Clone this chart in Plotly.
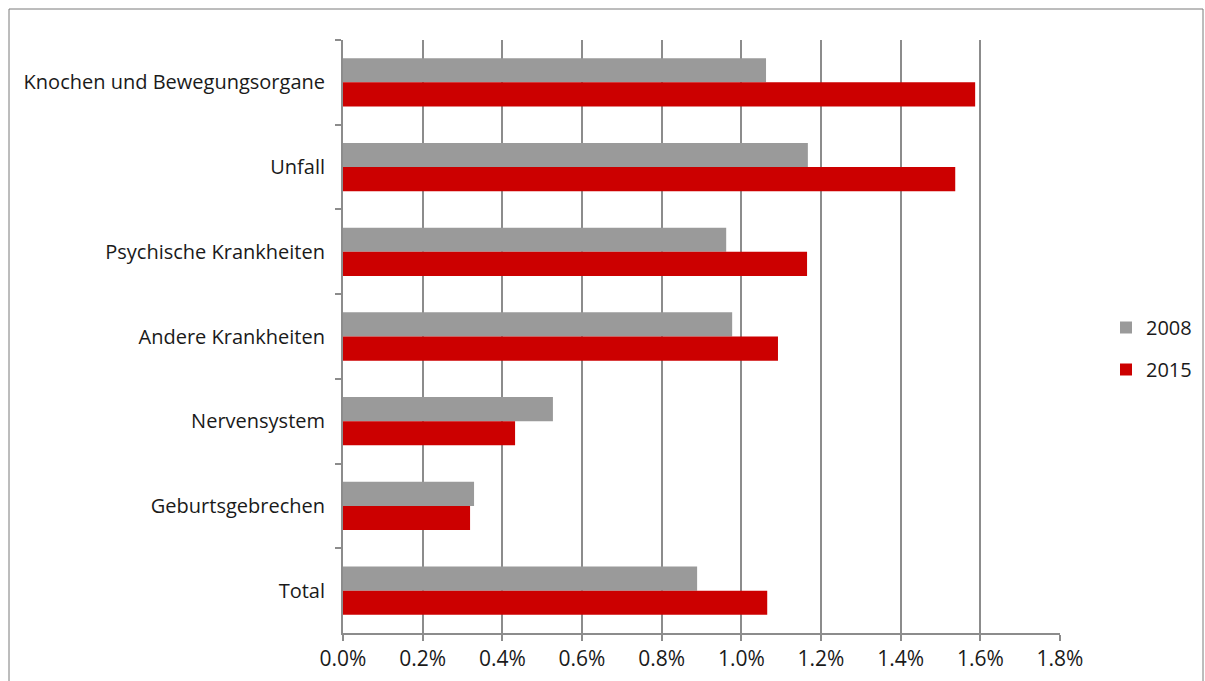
import plotly.graph_objects as go

categories = ["Knochen und Bewegungsorgane", "Unfall", "Psychische Krankheiten",
              "Andere Krankheiten", "Nervensystem", "Geburtsgebrechen", "Total"]
values_2008 = [1.062, 1.167, 0.962, 0.977, 0.527, 0.329, 0.889]
values_2015 = [1.587, 1.537, 1.165, 1.092, 0.432, 0.319, 1.065]
tick_vals = [0.0, 0.2, 0.4, 0.6, 0.8, 1.0, 1.2, 1.4, 1.6, 1.8]
tick_text = [f"{v:.1f}%" for v in tick_vals]

W, H = 1205, 681
L, R, T, B = 343, 1060, 40, 633

fig = go.Figure()
fig.add_trace(go.Bar(y=categories, x=values_2008, name="2008", orientation="h",
                     legendgroup="a",
                     marker=dict(color="#9a9a9a", line=dict(width=0))))
fig.add_trace(go.Bar(y=categories, x=values_2015, name="2015", orientation="h",
                     legendgroup="b",
                     marker=dict(color="#cc0000", line=dict(width=0))))

pw, ph = R - L, B - T
def px2x(p): return (p - L) / pw
def px2y(p): return (B - p) / ph

fig.update_layout(
    width=W, height=H,
    margin=dict(l=L, r=W - R, t=T, b=H - B, pad=0, autoexpand=False),
    paper_bgcolor="white", plot_bgcolor="white",
    font=dict(family="Open Sans, Noto Sans, sans-serif", size=20, color="#1a1a1a"),
    barmode="group", bargap=0.43, bargroupgap=0,
    xaxis=dict(range=[0, 1.8], tickvals=tick_vals, ticktext=tick_text,
               tickfont=dict(size=21),
               showgrid=True, gridcolor="#8c8c8c", gridwidth=2,
               showline=True, linecolor="#8c8c8c", linewidth=2,
               ticks="outside", ticklen=6, tickcolor="#8c8c8c", tickwidth=2,
               zeroline=False, fixedrange=True),
    yaxis=dict(autorange="reversed", categoryorder="array", categoryarray=categories,
               tickfont=dict(size=20), ticklabelstandoff=12,
               showline=True, linecolor="#8c8c8c", linewidth=2,
               ticks="outside", ticklen=6, tickcolor="#8c8c8c", tickwidth=2,
               tickson="boundaries", showgrid=False, fixedrange=True),
    legend=dict(x=px2x(1106), y=px2y(308), xanchor="left", yanchor="top",
                font=dict(size=20), itemwidth=30, tracegroupgap=13,
                bgcolor="rgba(0,0,0,0)"),
    shapes=[dict(type="rect", xref="paper", yref="paper",
                 x0=px2x(9), x1=px2x(1203), y0=px2y(700), y1=px2y(9),
                 line=dict(color="#7a7a7a", width=1), fillcolor="rgba(0,0,0,0)",
                 layer="below")],
)

fig.write_html("out.html", config={"displayModeBar": False})
with open("out.html", "r", encoding="utf-8") as f:
    html = f.read()
html = html.replace("<body>", '<body style="margin:0;padding:0;overflow:hidden">', 1)
with open("out.html", "w", encoding="utf-8") as f:
    f.write(html)
